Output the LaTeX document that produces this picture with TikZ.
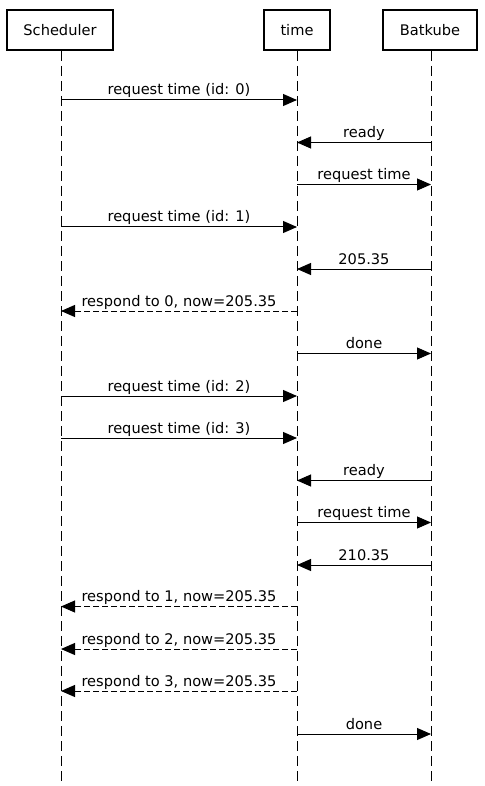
\documentclass[tikz,border=0pt]{standalone}
\usepackage{fontspec}
\setmainfont{DejaVu Sans}
\usetikzlibrary{arrows.meta}
\begin{document}
\begin{tikzpicture}[x=1pt,y=-1pt,
  every node/.style={font=\fontsize{14.6}{17}\selectfont},
  actor/.style={draw,line width=2pt,minimum height=40pt,inner sep=0pt},
  life/.style={line width=1pt,dash pattern=on 10pt off 5pt},
  msg/.style={line width=1pt,-{Triangle[length=14pt,width=12pt]}},
  reply/.style={msg,dash pattern=on 6pt off 3pt},
  lbl/.style={anchor=base,inner sep=0pt,yshift=5pt}]
\useasboundingbox (0,0) rectangle (484,786);
\node[actor,minimum width=106pt] (S) at (60,30) {Scheduler};
\node[actor,minimum width=66pt] (T) at (297,30) {time};
\node[actor,minimum width=94pt] (B) at (430,30) {Batkube};
\coordinate (Send) at (61,786);
\coordinate (Tend) at (297,786);
\coordinate (Bend) at (431,786);
\draw[life] (S.south -| Send) -- (Send);
\draw[life] (T.south -| Tend) -- (Tend);
\draw[life] (B.south -| Bend) -- (Bend);
% messages
\newcommand{\msgST}[3]{%
  \coordinate (a#3) at (61,#1); \coordinate (b#3) at (297,#1);
  \draw[msg] (a#3) -- node[lbl] {#2} (b#3);}
\newcommand{\msgTB}[3]{%
  \coordinate (a#3) at (297,#1); \coordinate (b#3) at (431,#1);
  \draw[msg] (a#3) -- node[lbl] {#2} (b#3);}
\newcommand{\msgBT}[3]{%
  \coordinate (a#3) at (431,#1); \coordinate (b#3) at (297,#1);
  \draw[msg] (a#3) -- node[lbl] {#2} (b#3);}
\newcommand{\msgTS}[3]{%
  \coordinate (a#3) at (297,#1); \coordinate (b#3) at (61,#1);
  \draw[reply] (a#3) -- node[lbl] {#2} (b#3);}
\msgST{100}{request time (id: 0)}{m1}
\msgBT{142.5}{ready}{m2}
\msgTB{184.5}{request time}{m3}
\msgST{227}{request time (id: 1)}{m4}
\msgBT{269}{205.35}{m5}
\msgTS{311}{respond to 0, now=205.35}{m6}
\msgTB{353.5}{done}{m7}
\msgST{396}{request time (id: 2)}{m8}
\msgST{438}{request time (id: 3)}{m9}
\msgBT{480.5}{ready}{m10}
\msgTB{522.5}{request time}{m11}
\msgBT{565}{210.35}{m12}
\msgTS{606.5}{respond to 1, now=205.35}{m13}
\msgTS{649}{respond to 2, now=205.35}{m14}
\msgTS{691}{respond to 3, now=205.35}{m15}
\msgTB{734}{done}{m16}
\end{tikzpicture}
\end{document}
